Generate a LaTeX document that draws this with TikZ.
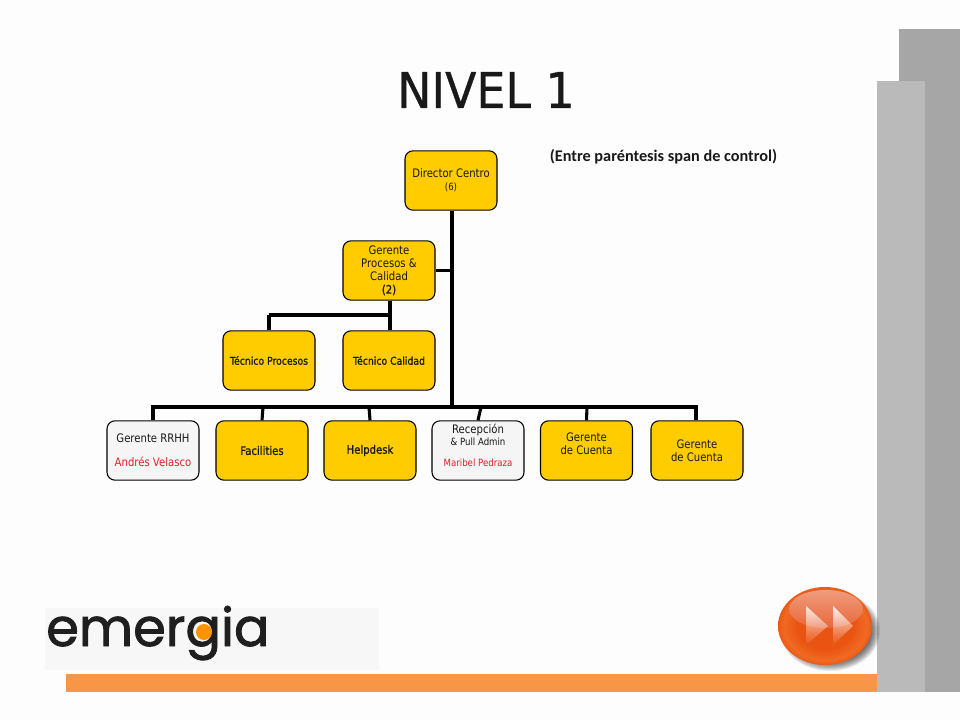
\documentclass[tikz,border=0pt]{standalone}
\usepackage{fontspec}
\setmainfont{DejaVu Sans}[FakeStretch=0.86]
\newfontfamily\titlefont{DejaVu Sans}[FakeStretch=0.93,FakeBold=0.6]
\newfontfamily\notefont{Carlito}
\newfontfamily\logofont{Poppins}[FakeBold=1.6]
\newfontfamily\semifont{DejaVu Sans}[FakeStretch=0.86,FakeBold=0.9]
\usetikzlibrary{fadings,shapes.geometric}
\definecolor{bgc}{HTML}{FDFDFD}
\definecolor{boxy}{HTML}{FFCC00}
\definecolor{boxw}{HTML}{F5F5F5}
\definecolor{redt}{HTML}{E0202A}
\definecolor{barc}{HTML}{F79646}
\definecolor{gd}{HTML}{A6A6A6}
\definecolor{gl}{HTML}{BABABA}
\definecolor{logobg}{HTML}{F7F7F7}
\definecolor{rim}{HTML}{C41810}
\definecolor{btnlow}{HTML}{F06A24}
\definecolor{btnmid}{HTML}{EA5412}
\definecolor{btnhi}{HTML}{F09C7C}
\definecolor{btnhib}{HTML}{E8683A}
\pgfdeclareradialshading{btnshade}{\pgfpoint{0bp}{0bp}}{color(0bp)=(btnmid); color(15bp)=(btnmid); color(22bp)=(btnlow); color(26bp)=(btnmid); color(33bp)=(rim); color(50bp)=(rim)}
\tikzset{
  orgbox/.style={draw=black,line width=0.8pt,rounded corners=6pt,minimum width=69pt,minimum height=44.5pt,inner sep=0pt,align=center,font=\fontsize{8.8pt}{9.8pt}\selectfont,text=black!90},
  yel/.style={orgbox,fill=boxy},
  wht/.style={orgbox,fill=boxw},
  conn/.style={draw=black,line width=2.3pt},
}
\newcommand{\smalltxt}{\fontsize{7.5pt}{9.8pt}\selectfont}
\newcommand{\boldtxt}{\semifont\fontsize{8.1pt}{9.8pt}\selectfont}
\begin{document}
\begin{tikzpicture}[x=0.75pt,y=-0.75pt]
\useasboundingbox (0,0) rectangle (960,720);
\fill[bgc] (0,0) rectangle (960,720);
% side panels and bar
\fill[gd] (899,29) rectangle (960,692);
\fill[barc] (66,674) rectangle (877,692);
\fill[gl] (877,81) rectangle (925,692);
% title
\node[font=\titlefont\fontsize{37pt}{42pt}\selectfont,text=black!90] (title) at (486,90) {NIVEL 1};
\node[font=\notefont\bfseries\fontsize{12.2pt}{14pt}\selectfont,text=black!90] (note) at (663.5,157) {(Entre paréntesis span de control)};
% boxes
\node[yel] (dir) at (451,180.5) {Director Centro\\{\smalltxt (6)}};
\node[yel] (gp) at (389,270.5) {Gerente\\Procesos \&\\Calidad\\{\semifont (2)}};
\node[yel,font=\boldtxt] (tp) at (269,360.5) {Técnico Procesos};
\node[yel,font=\boldtxt] (tc) at (389,360.5) {Técnico Calidad};
\node[wht] (rrhh) at (153,450.5) {Gerente RRHH\\[8pt]\textcolor{redt}{Andrés Velasco}};
\node[yel] (fac) at (262,450.5) {{\semifont Facilities}};
\node[yel] (help) at (370,450.5) {{\semifont Helpdesk}};
\node[wht] (rec) at (478,450.5) {Recepción\\[-1pt]{\smalltxt \& Pull Admin}\\[6pt]{\smalltxt\textcolor{redt}{Maribel Pedraza}}\\[-2pt]\mbox{}};
\node[yel] (gc1) at (586.5,450.5) {Gerente\\de Cuenta\\\mbox{}};
\node[yel] (gc2) at (697,450.5) {Gerente\\de Cuenta};
% connector junctions
\coordinate (trunk) at (452,407);
\coordinate (busL) at (153,407);
\coordinate (busR) at (696,407);
\coordinate (jf) at (263,407);
\coordinate (jh) at (369,407);
\coordinate (jr) at (481,407);
\coordinate (jg) at (587,407);
\coordinate (sub) at (390,315);
\coordinate (subL) at (269,315);
% connectors
\draw[conn] (dir.south -| trunk) -- (trunk);
\draw[conn] (gp.east) -- (gp.east -| trunk);
\draw[conn] (gp.south -| sub) -- (tc.north -| sub);
\draw[conn,line cap=butt] (subL) -- (sub);
\draw[conn] (subL) -- (tp.north);
\draw[conn,line join=miter] (rrhh.north) -- (busL) -- (busR) -- (gc2.north -| busR);
\draw[conn] (jf) -- (fac.north);
\draw[conn] (jh) -- (help.north);
\draw[conn] (jr) -- (rec.north);
\draw[conn] (jg) -- (gc1.north);
% logo
\fill[logobg] (45,608) rectangle (379,670);
\node[font=\logofont\fontsize{39.5pt}{40pt}\selectfont,text=black!88,anchor=base west,inner sep=0pt] (logo) at (46,646) {emergia};
\fill[orange!85!yellow] (204,632) circle (8);
% button
\foreach \i in {0,...,9}{
  \fill[black,opacity=0.08] (830,631) ellipse ({50-\i} and {40-\i});
}
\shade[shading=btnshade] (825,626) ellipse (47 and 39);
\shade[top color=btnhi,bottom color=btnhib] (826,609) ellipse (37 and 19);
\fill[white,opacity=.8,path fading=south] (806,606) -- (828,626) -- (806,645) -- cycle;
\fill[white,opacity=.85,path fading=south] (833,606) -- (853,626) -- (833,645) -- cycle;
\end{tikzpicture}
\end{document}
